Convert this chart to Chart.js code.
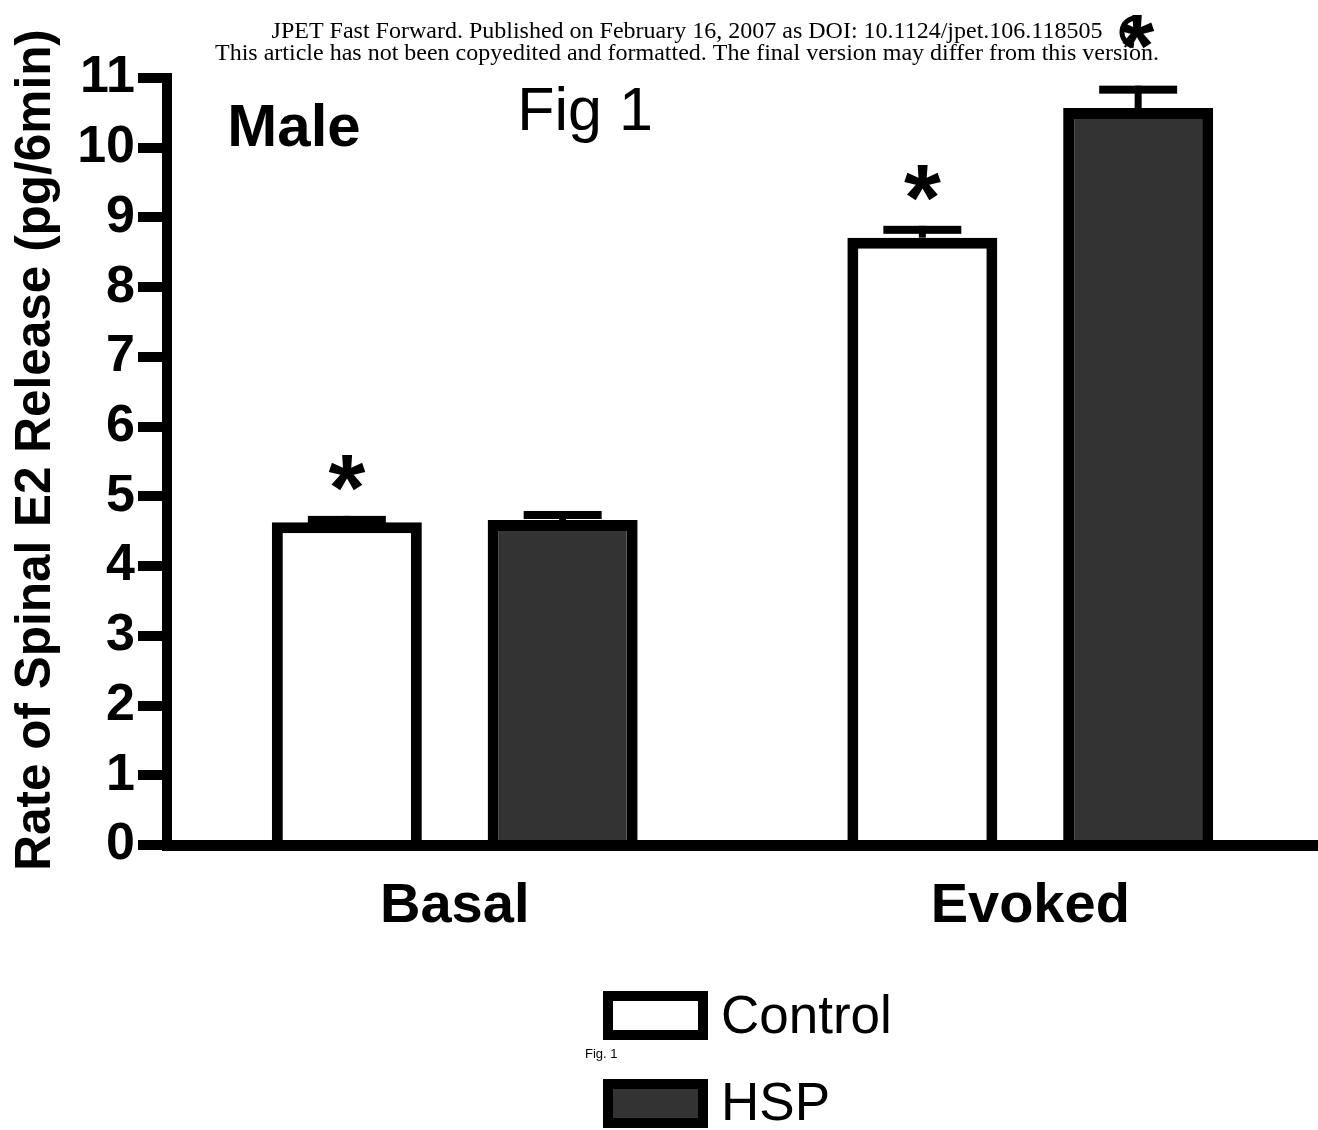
<!DOCTYPE html>
<html>
<head>
<meta charset="utf-8">
<script src="https://cdn.jsdelivr.net/npm/chart.js@4.4.1/dist/chart.umd.min.js"></script>
<style>
  html, body { margin: 0; padding: 0; background: #fff; }
  #wrap { width: 1318px; height: 1130px; }
</style>
</head>
<body>
<div id="wrap"><canvas id="e2Chart" width="1318" height="1130"></canvas></div>
<script>
// Datos (pg/6min)
const categories = ['Basal', 'Evoked'];
const seriesNames = ['Control', 'HSP'];
const controlMeans = [4.63, 8.71];
const hspMeans = [4.66, 10.57];
// extremo superior de la barra de error (media + SEM)
const controlErrTop = [4.72, 8.88];
const hspErrTop = [4.79, 10.89];
// asterisco de significancia sobre cada barra
const controlStars = [true, true];
const hspStars = [false, false];
const yTicks = [0, 1, 2, 3, 4, 5, 6, 7, 8, 9, 10, 11];

const yTitle = 'Rate of Spinal E2 Release (pg/6min)';
const headerLine1 = 'JPET Fast Forward. Published on February 16, 2007 as DOI: 10.1124/jpet.106.118505';
const headerLine2 = 'This article has not been copyedited and formatted. The final version may differ from this version.';

const errTops = [controlErrTop, hspErrTop];
const stars = [controlStars, hspStars];

const SANS = '"Liberation Sans", Arial, sans-serif';

// dibuja un asterisco de alto dado centrado en (x, cy)
function drawStar(ctx, x, cy, height) {
    ctx.font = 'bold 100px ' + SANS;
    const m = ctx.measureText('*');
    const size = 100 * height / (m.actualBoundingBoxAscent + m.actualBoundingBoxDescent);
    ctx.font = 'bold ' + size + 'px ' + SANS;
    const m2 = ctx.measureText('*');
    ctx.textAlign = 'center';
    ctx.textBaseline = 'alphabetic';
    ctx.fillText('*', x, cy + (m2.actualBoundingBoxAscent - m2.actualBoundingBoxDescent) / 2);
}

// Barras de error
const errorBars = {
    id: 'errorBars',
    afterDatasetsDraw(chart) {
        const ctx = chart.ctx;
        const y = chart.scales.y;
        ctx.save();
        ctx.fillStyle = '#000';
        chart.data.datasets.forEach((ds, i) => {
            chart.getDatasetMeta(i).data.forEach((bar, j) => {
                const top = y.getPixelForValue(errTops[i][j]);
                const capW = bar.width * 0.52;
                ctx.fillRect(bar.x - 3.5, top, 7, bar.y - top);
                ctx.fillRect(bar.x - capW / 2, top, capW, 8);
                if (stars[i][j]) drawStar(ctx, bar.x, top - 43, 36);
            });
        });
        ctx.restore();
    }
};

// Textos y leyenda
const extras = {
    id: 'extras',
    afterDraw(chart) {
        const ctx = chart.ctx;
        ctx.save();
        ctx.fillStyle = '#000';

        // cabecera de la revista
        ctx.font = '24px "Liberation Serif", "Times New Roman", serif';
        ctx.textAlign = 'center';
        ctx.textBaseline = 'alphabetic';
        ctx.fillText(headerLine1, 687, 38);
        ctx.fillText(headerLine2, 687, 60);

        // logo
        ctx.strokeStyle = '#000';
        ctx.lineWidth = 5;
        ctx.beginPath();
        ctx.arc(1136, 32, 14, Math.PI * 0.55, Math.PI * 1.5);
        ctx.stroke();
        drawStar(ctx, 1137, 32, 34);

        // título del eje Y
        ctx.save();
        ctx.translate(50, 450);
        ctx.rotate(-Math.PI / 2);
        ctx.font = 'bold 49.5px ' + SANS;
        ctx.textAlign = 'center';
        ctx.fillText(yTitle, 0, 0);
        ctx.restore();

        ctx.textAlign = 'center';
        ctx.font = 'bold 60px ' + SANS;
        ctx.fillText('Male', 294, 146);
        ctx.font = '61px ' + SANS;
        ctx.fillText('Fig 1', 585, 130);

        // leyenda
        const boxes = [[603, 991], [603, 1079]];
        const baselines = [1033, 1120];
        chart.data.datasets.forEach((ds, i) => {
            const [bx, by] = boxes[i];
            ctx.fillStyle = ds.borderColor;
            ctx.fillRect(bx, by, 105, 49);
            ctx.fillStyle = ds.backgroundColor;
            ctx.fillRect(bx + 10, by + 10, 85, 29);
            ctx.fillStyle = '#000';
            ctx.font = '53px ' + SANS;
            ctx.textAlign = 'left';
            ctx.fillText(ds.label, 721, baselines[i]);
        });
        ctx.font = '13px ' + SANS;
        ctx.fillText('Fig. 1', 585, 1058);
        ctx.restore();
    }
};

const ctx = document.getElementById('e2Chart').getContext('2d');
const e2Chart = new Chart(ctx, {
    type: 'bar',
    data: {
        labels: categories,
        datasets: [{
            label: seriesNames[0],
            data: controlMeans,
            backgroundColor: '#ffffff',
            borderColor: '#000000',
            borderWidth: 11,
            borderSkipped: 'start'
        }, {
            label: seriesNames[1],
            data: hspMeans,
            backgroundColor: '#333333',
            borderColor: '#000000',
            borderWidth: 11,
            borderSkipped: 'start'
        }]
    },
    options: {
        responsive: false,
        animation: false,
        devicePixelRatio: 1,
        datasets: {
            bar: { categoryPercentage: 0.75, barPercentage: 0.695 }
        },
        layout: { padding: { top: 78, right: 0, bottom: 0, left: 0 } },
        plugins: {
            legend: { display: false },
            tooltip: { enabled: false }
        },
        scales: {
            x: {
                grid: { display: false, drawTicks: false },
                border: { display: true, width: 11, color: '#000' },
                ticks: {
                    color: '#000',
                    padding: 28,
                    font: { family: SANS, size: 56, weight: 'bold' }
                },
                afterFit: s => { s.height = 285; }
            },
            y: {
                min: 0,
                max: 11,
                afterBuildTicks: s => { s.ticks = yTicks.map(v => ({ value: v })); },
                grid: { drawOnChartArea: false, drawTicks: true, tickLength: 29, lineWidth: 10, color: '#000' },
                border: { display: true, width: 10, color: '#000' },
                ticks: {
                    color: '#000',
                    padding: 3,
                    font: { family: SANS, size: 52, weight: 'bold' }
                },
                afterFit: s => { s.width = 167; }
            }
        }
    },
    plugins: [errorBars, extras]
});
</script>
</body>
</html>
